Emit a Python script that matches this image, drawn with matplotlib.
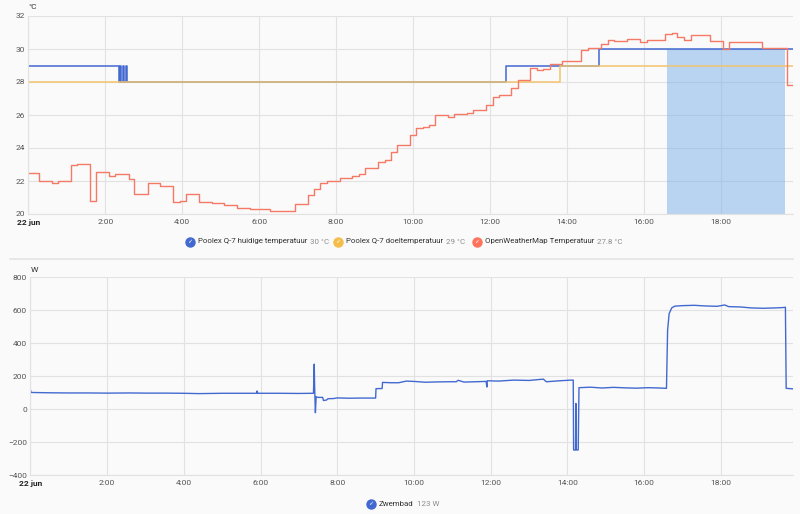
import matplotlib.pyplot as plt
from matplotlib.lines import Line2D

plt.rcParams["font.family"] = ["Roboto", "DejaVu Sans"]

BG = "#fafafa"
GRID = "#e2e2e2"
TICK = "#555555"
BLUE = "#4269d0"
YELLOW = "#f2c46d"
RED = "#f57a66"
HEAT_FILL = "#7aafe8"

W_PX, H_PX = 800, 514
X_END = 19.87  # hours after midnight, 22 jun

TICK_HOURS = [0, 2, 4, 6, 8, 10, 12, 14, 16, 18]
TICK_LABELS = ["22 jun", "2:00", "4:00", "6:00", "8:00", "10:00",
               "12:00", "14:00", "16:00", "18:00"]

# Poolex Q-7 huidige temperatuur (step values, °C)
current_t = [0.0, 2.36, 2.39, 2.42, 2.45, 2.49, 2.54, 2.57, 12.41, 14.83]
current_v = [29, 28, 29, 28, 29, 28, 29, 28, 29, 30]

# Poolex Q-7 doeltemperatuur
target_t = [0.0, 13.81]
target_v = [28, 29]

# OpenWeatherMap Temperatuur
weather_t = [0.0, 0.28, 0.61, 0.78, 1.10, 1.27, 1.60, 1.77, 2.10, 2.26, 2.61, 2.76,
             3.10, 3.27, 3.43, 3.77, 3.94, 4.11, 4.43, 4.78, 5.10, 5.43, 5.77, 6.28,
             6.94, 7.26, 7.43, 7.59, 7.77, 8.10, 8.42, 8.60, 8.76, 9.10, 9.26, 9.42,
             9.59, 9.92, 10.09, 10.25, 10.42, 10.56, 10.90, 11.06, 11.40, 11.56, 11.90,
             12.07, 12.23, 12.56, 12.73, 13.03, 13.22, 13.39, 13.55, 13.88, 14.38,
             14.55, 14.88, 15.06, 15.22, 15.55, 15.90, 16.07, 16.56, 16.72, 16.87,
             17.05, 17.22, 17.72, 18.06, 18.22, 18.55, 19.06, 19.71]
weather_v = [22.5, 22.0, 21.9, 22.0, 23.0, 23.05, 20.8, 22.55, 22.3, 22.45, 22.1, 21.2,
             21.9, 21.85, 21.7, 20.75, 20.8, 21.2, 20.73, 20.65, 20.53, 20.34, 20.28, 20.2,
             20.63, 21.17, 21.54, 21.9, 22.02, 22.16, 22.28, 22.42, 22.79, 23.15, 23.25, 23.76,
             24.16, 24.77, 25.19, 25.27, 25.39, 26.02, 25.86, 26.04, 26.12, 26.32, 26.61,
             27.09, 27.23, 27.66, 28.1, 28.85, 28.75, 28.81, 29.08, 29.26, 29.96,
             30.08, 30.32, 30.57, 30.5, 30.6, 30.44, 30.53, 30.9, 30.99, 30.7,
             30.57, 30.87, 30.48, 29.98, 30.44, 30.4, 30.04, 27.8]

# period where the pump is heating (shaded)
heat_period = [16.6, 19.67]

# Zwembad power (W)
power_t = [0.0, 0.02, 0.5, 1.0, 1.5, 2.0, 2.6, 3.0, 3.5, 4.0, 4.4, 5.0, 5.5, 5.9, 5.91, 5.93,
           6.5, 7.0, 7.38, 7.40, 7.41, 7.43, 7.45, 7.50, 7.62, 7.64, 7.72, 7.76, 7.9, 8.0,
           8.3, 8.6, 9.0, 9.01, 9.17, 9.18, 9.4, 9.6, 9.8, 10.0, 10.3, 10.6, 10.9, 11.1,
           11.15, 11.3, 11.6, 11.88, 11.9, 11.91, 12.2, 12.6, 13.0, 13.37, 13.45, 13.8,
           14.1, 14.15, 14.16, 14.21, 14.22, 14.23, 14.28, 14.30, 14.6, 14.9, 15.2, 15.5,
           15.8, 16.1, 16.4, 16.58, 16.61, 16.65, 16.72, 16.8, 17.0, 17.3, 17.6, 17.9,
           18.1, 18.2, 18.5, 18.8, 19.1, 19.4, 19.6, 19.68, 19.70, 19.87]
power_v = [120, 101, 99, 98, 98, 97, 98, 97, 97, 96, 94, 96, 96, 96, 110, 96,
           96, 95, 96, 273, 140, -22, 75, 71, 71, 52, 55, 63, 64, 68,
           66, 67, 67, 124, 125, 162, 160, 160, 170, 168, 163, 165, 166, 166,
           175, 164, 166, 168, 134, 172, 170, 176, 174, 182, 166, 172,
           176, 176, -248, -248, 34, -248, -248, 130, 133, 128, 132, 129,
           127, 130, 128, 126, 480, 580, 615, 625, 628, 630, 626, 624,
           632, 622, 620, 614, 612, 614, 616, 618, 126, 123]


def fx(px):
    return px / W_PX


def fy(py):
    return 1 - py / H_PX


def style_axis(ax, ylim, yticks):
    ax.set_facecolor(BG)
    for s in ["top", "right"]:
        ax.spines[s].set_visible(False)
    for s in ["left", "bottom"]:
        ax.spines[s].set_color(GRID)
        ax.spines[s].set_linewidth(0.8)
    ax.grid(True, color=GRID, linewidth=0.8)
    ax.set_axisbelow(True)
    ax.set_xlim(0, X_END)
    ax.set_ylim(*ylim)
    ax.set_yticks(yticks)
    ax.set_xticks(TICK_HOURS)
    ax.set_xticklabels(TICK_LABELS)
    ax.tick_params(axis="both", length=0, labelsize=6, colors=TICK)
    ax.tick_params(axis="y", pad=2.5)
    ax.tick_params(axis="x", pad=3.5)
    first = ax.get_xticklabels()[0]
    first.set_fontweight("bold")
    first.set_color("#222222")


def legend_item(fig, renderer, x_px, y_px, color, name, value):
    fig.add_artist(Line2D([fx(x_px)], [fy(y_px)], marker="o", markersize=6.5,
                          color=color, transform=fig.transFigure))
    fig.text(fx(x_px), fy(y_px), "✓", color="white", fontsize=4.5, fontweight="bold",
             ha="center", va="center", family=["DejaVu Sans"])
    t = fig.text(fx(x_px + 8), fy(y_px), name, color="#333333", fontsize=5.7,
                 ha="left", va="center")
    bb = t.get_window_extent(renderer)
    fig.text(bb.x1 / fig.dpi / fig.get_figwidth() + fx(3), fy(y_px), value,
             color="#8c8c8c", fontsize=5.7, ha="left", va="center")


def main():
    fig = plt.figure(figsize=(W_PX / 100, H_PX / 100), dpi=100, facecolor=BG)
    renderer = fig.canvas.get_renderer()

    # top chart: temperatures
    ax1 = fig.add_axes([fx(28.3), fy(214), fx(792.7 - 28.3), 198 / H_PX])
    style_axis(ax1, (20, 32), [20, 22, 24, 26, 28, 30, 32])
    ax1.fill_between(heat_period, 20, 30, color=HEAT_FILL, alpha=0.5, linewidth=0)
    ax1.step(current_t + [X_END], current_v + [current_v[-1]], where="post",
             color=BLUE, linewidth=1.1)
    ax1.step(target_t + [X_END], target_v + [target_v[-1]], where="post",
             color=YELLOW, linewidth=1.1)
    ax1.step(weather_t + [X_END], weather_v + [weather_v[-1]], where="post",
             color=RED, linewidth=1.0)
    fig.text(fx(33), fy(7), "°C", fontsize=6, color="#333333", ha="center", va="center")

    legend_item(fig, renderer, 190, 241.5, BLUE, "Poolex Q-7 huidige temperatuur", "30 °C")
    legend_item(fig, renderer, 338, 241.5, "#f4bd4a", "Poolex Q-7 doeltemperatuur", "29 °C")
    legend_item(fig, renderer, 477, 241.5, "#ff725c", "OpenWeatherMap Temperatuur", "27.8 °C")

    # separator between the two cards
    fig.add_artist(Line2D([fx(10), fx(793)], [fy(259), fy(259)], color="#e4e4e4",
                          linewidth=1.2, transform=fig.transFigure))

    # bottom chart: power
    ax2 = fig.add_axes([fx(30.3), fy(475), fx(792.7 - 30.3), 197.7 / H_PX])
    style_axis(ax2, (-400, 800), [-400, -200, 0, 200, 400, 600, 800])
    ax2.plot(power_t, power_v, color=BLUE, linewidth=1.0)
    fig.text(fx(34), fy(269.5), "W", fontsize=6, color="#333333", ha="center", va="center")

    legend_item(fig, renderer, 371, 503.5, BLUE, "Zwembad", "123 W")

    fig.savefig("out.png", dpi=100, facecolor=BG)
    plt.close(fig)


if __name__ == "__main__":
    main()
